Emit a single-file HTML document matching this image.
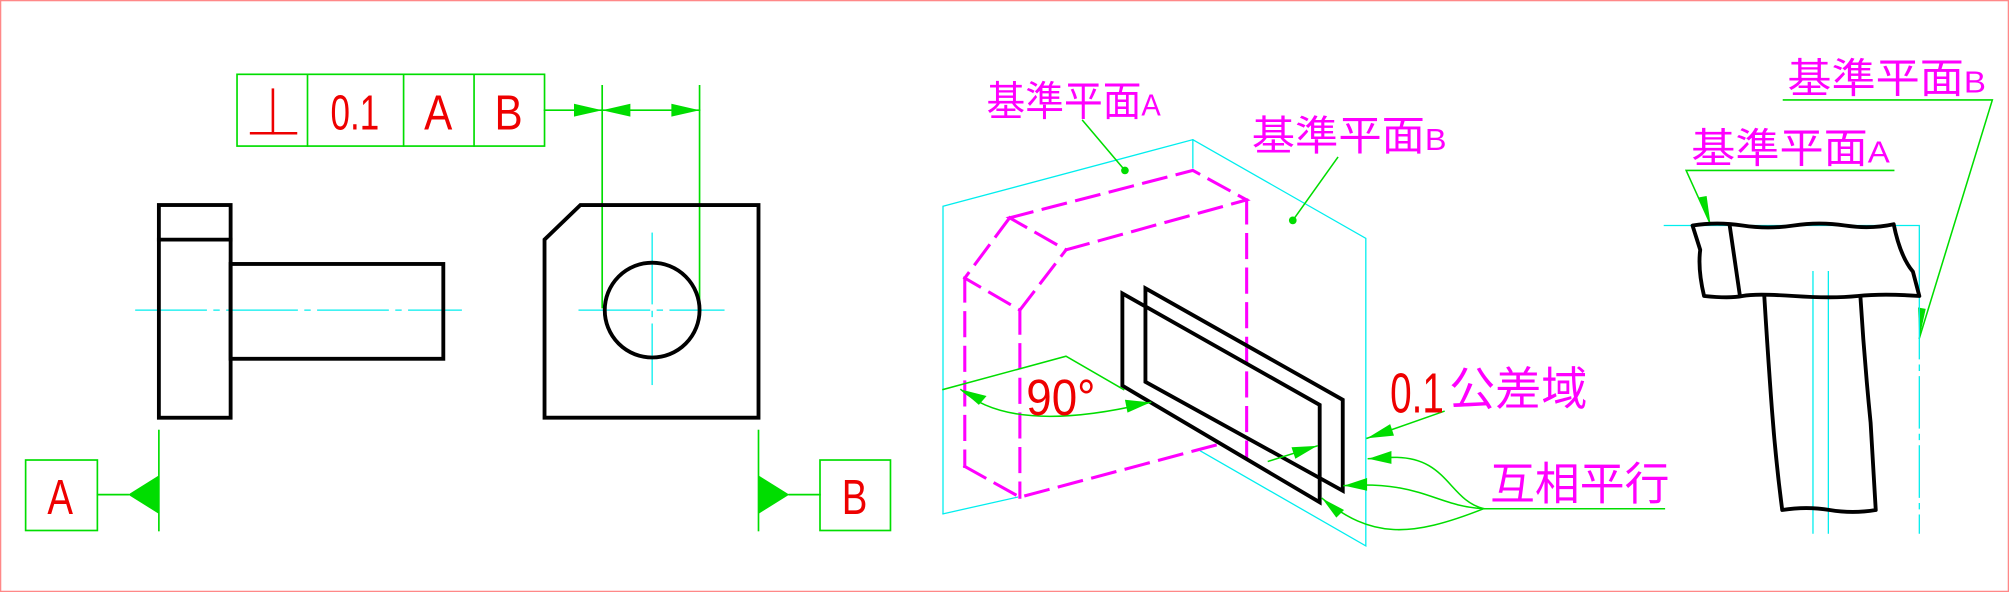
<!DOCTYPE html>
<html><head><meta charset="utf-8"><style>
html,body{margin:0;padding:0;background:#fff;}
svg{display:block;}
text{font-family:"Liberation Sans","Noto Sans CJK JP",sans-serif;}
</style></head><body>
<svg width="2009" height="592" viewBox="0 0 1568 462" preserveAspectRatio="none" xmlns="http://www.w3.org/2000/svg">
<rect x="0.5" y="0.5" width="1567" height="461" fill="#fff" stroke="#f88" stroke-width="1"/>
<g fill="none" stroke-linecap="square">
<g stroke="#0d0" stroke-width="1.3">
<rect x="185" y="58" width="240" height="56"/>
<line x1="240" y1="58" x2="240" y2="114"/><line x1="315" y1="58" x2="315" y2="114"/><line x1="370" y1="58" x2="370" y2="114"/>
<line x1="425" y1="86" x2="470" y2="86"/><line x1="470" y1="86" x2="546" y2="86"/>
<line x1="470" y1="67" x2="470" y2="240"/><line x1="546" y1="67" x2="546" y2="240"/>
<rect x="20" y="359" width="56" height="55"/><line x1="76" y1="386" x2="100" y2="386"/>
<line x1="124" y1="336" x2="124" y2="414"/>
<line x1="592" y1="336" x2="592" y2="414"/><line x1="616" y1="386" x2="640" y2="386"/>
<rect x="640" y="359" width="55" height="55"/>
</g>
<g fill="#0d0" stroke="none">
<polygon points="470,86 448,81 448,91"/>
<polygon points="470,86 492,81 492,91"/>
<polygon points="546,86 524,81 524,91"/>
<polygon points="124,371 124,401 100,386"/>
<polygon points="592,371 592,401 616,386"/>
</g>
<g stroke="#e00" stroke-width="2"><line x1="213" y1="70" x2="213" y2="104"/><line x1="196" y1="104" x2="231" y2="104"/></g>
<g stroke="#0ee" stroke-width="1">
<line x1="106" y1="242" x2="360" y2="242" stroke-dasharray="55,6,4,6"/>
<line x1="452" y1="242" x2="565" y2="242" stroke-dasharray="55,6,4,6"/>
<line x1="509" y1="182" x2="509" y2="300" stroke-dasharray="55,6,4,6"/>
</g>
<g stroke="#000" stroke-width="3" stroke-linejoin="miter">
<rect x="124" y="160" width="56" height="166"/><line x1="124" y1="187" x2="180" y2="187"/>
<rect x="180" y="206" width="166" height="74"/>
<polygon points="453,160 592,160 592,326 425,326 425,187"/>
<circle cx="509" cy="242" r="37"/>
</g>
<g stroke="#0ee" stroke-width="1">
<polyline points="736,401 736,161 931,109 1066,186 1066,426 937,352"/>
<line x1="931" y1="109" x2="931" y2="131"/>
<line x1="736" y1="401" x2="794" y2="388"/>
</g>
<g stroke="#f0f" stroke-width="2.4" stroke-dasharray="18,9">
<polygon points="788,170 931,133 973,156 832,195"/>
<polyline points="788,170 753,217 796,242 832,195"/>
<line x1="753" y1="217" x2="753" y2="364"/>
<line x1="796" y1="242" x2="796" y2="388"/>
<line x1="973" y1="156" x2="973" y2="357"/>
<polyline points="753,364 796,388 954,346"/>
</g>
<g stroke="#000" stroke-width="3">
<polygon points="876,229 876,301 1030,392 1030,316"/>
<polygon points="894,225 894,298 1048,383 1048,312"/>
</g>
<g stroke="#0d0" stroke-width="1.2">
<polyline points="736,304 832,278 877,304"/>
<path d="M750,304 Q790,340 898,314"/>
<line x1="845" y1="94" x2="878" y2="133"/>
<line x1="1044" y1="123" x2="1009" y2="172"/>
<line x1="1127" y1="321" x2="1067" y2="342"/>
<line x1="990" y1="360" x2="1028" y2="348"/>
<line x1="1158" y1="397" x2="1299" y2="397"/>
<path d="M1158,397 C1130,390 1130,355 1085,357 L1068,358"/>
<path d="M1158,397 C1120,395 1110,375 1049,379"/>
<path d="M1158,397 C1100,420 1070,420 1032,389"/>
<polyline points="1392,78 1555,78 1498,264"/>
<polyline points="1478,133 1316,133 1335,175"/>
</g>
<g fill="#0d0" stroke="none">
<polygon points="750,304 770,309 764,316"/>
<polygon points="898,314 878,312 880,322"/>
<circle cx="878" cy="133" r="3"/><circle cx="1009" cy="172" r="3"/>
<polygon points="1067,342 1085,331 1088,340"/>
<polygon points="1028,348 1008,349 1011,358"/>
<polygon points="1068,358 1086,352 1086,362"/>
<polygon points="1049,379 1067,373 1067,383"/>
<polygon points="1032,389 1049,398 1043,404"/>
<polygon points="1498,264 1497,240 1503,241"/>
<polygon points="1335,175 1326,154 1332,153"/>
</g>
<g stroke="#0ee" stroke-width="1">
<polyline points="1299,176 1498,176 1498,240"/>
<line x1="1498" y1="240" x2="1498" y2="416" stroke-dasharray="40,5,4,5"/>
<line x1="1415" y1="212" x2="1415" y2="416"/>
<line x1="1427" y1="212" x2="1427" y2="416"/>
</g>
<g stroke="#000" stroke-width="3" stroke-linejoin="round">
<path d="M1321,176 Q1340,173 1360,176 T1400,176 T1440,176 T1478,175 Q1483,200 1493,212 L1498,231 Q1470,229 1450,231 T1400,231 T1360,231 T1330,231 Q1325,210 1327,195 Z"/>
<line x1="1350" y1="176" x2="1358" y2="231"/>
<path d="M1377,231 Q1380,280 1383,320 T1391,398 Q1410,395 1428,398 T1464,398 L1460,330 Q1455,280 1452,231"/>
</g>
</g>
<g fill="#e00" font-size="38">
<text x="258" y="101" textLength="38" lengthAdjust="spacingAndGlyphs">0.1</text>
<text x="331" y="101" textLength="22" lengthAdjust="spacingAndGlyphs">A</text>
<text x="386" y="101" textLength="22" lengthAdjust="spacingAndGlyphs">B</text>
<text x="37" y="401" textLength="20" lengthAdjust="spacingAndGlyphs">A</text>
<text x="657" y="401" textLength="20" lengthAdjust="spacingAndGlyphs">B</text>
<text x="801" y="324" font-size="40" textLength="54" lengthAdjust="spacingAndGlyphs">90°</text>
<text x="1085" y="322" font-size="44" textLength="42" lengthAdjust="spacingAndGlyphs">0.1</text>
</g>
<g fill="#f0f" font-size="32">
<text x="770" y="90" textLength="136" lengthAdjust="spacingAndGlyphs">基準平面<tspan font-size="24">A</tspan></text>
<text x="977" y="117" textLength="152" lengthAdjust="spacingAndGlyphs">基準平面<tspan font-size="24">B</tspan></text>
<text x="1131" y="316" font-size="36">公差域</text>
<text x="1163" y="390" font-size="35">互相平行</text>
<text x="1395" y="72" textLength="155" lengthAdjust="spacingAndGlyphs">基準平面<tspan font-size="24">B</tspan></text>
<text x="1320" y="127" textLength="155" lengthAdjust="spacingAndGlyphs">基準平面<tspan font-size="24">A</tspan></text>
</g>
</svg>
</body></html>
